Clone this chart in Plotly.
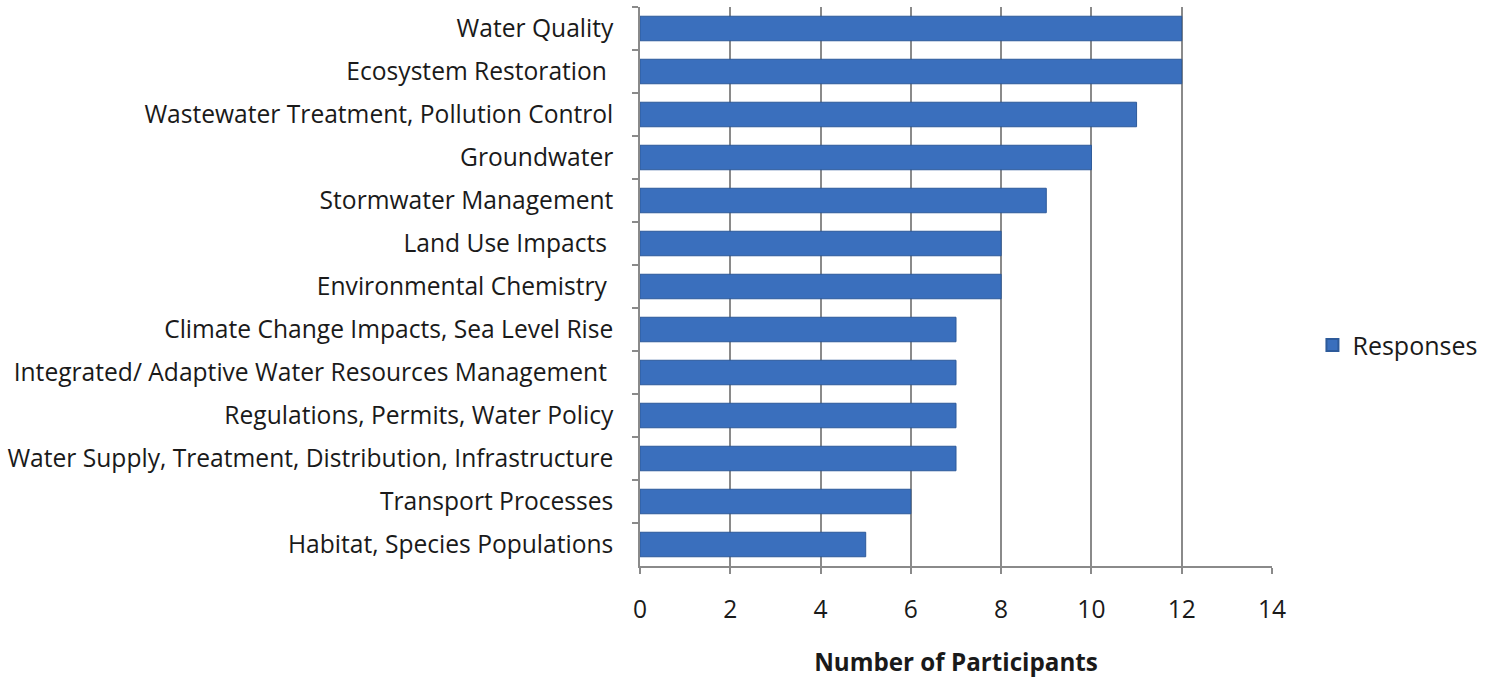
import plotly.graph_objects as go

# Research topics, listed top to bottom, with participant counts
topics = [
    "Water Quality",
    "Ecosystem Restoration\u00a0",
    "Wastewater Treatment, Pollution Control",
    "Groundwater",
    "Stormwater Management",
    "Land Use Impacts\u00a0",
    "Environmental Chemistry\u00a0",
    "Climate Change Impacts, Sea Level Rise",
    "Integrated/ Adaptive Water Resources Management\u00a0",
    "Regulations, Permits, Water Policy",
    "Water Supply, Treatment, Distribution, Infrastructure",
    "Transport Processes",
    "Habitat, Species Populations",
]
responses = [12, 12, 11, 10, 9, 8, 8, 7, 7, 7, 7, 6, 5]
x_ticks = [0, 2, 4, 6, 8, 10, 12, 14]

FONT = "'Open Sans', Calibri, sans-serif"
FS = 24.6
AXIS_GREY = "#8a8a8a"

fig = go.Figure(
    go.Bar(
        x=responses,
        y=topics,
        orientation="h",
        name="Responses",
        marker=dict(color="#3a6fbd", line=dict(color="#2d5a9a", width=1)),
        showlegend=True,
    )
)

fig.update_layout(
    width=1497,
    height=681,
    margin=dict(l=640, r=225, t=7, b=115),
    paper_bgcolor="white",
    plot_bgcolor="white",
    font=dict(family=FONT, size=FS, color="#1a1a1a"),
    bargap=0.43,
    showlegend=True,
    legend=dict(
        x=1.064,
        y=0.395,
        xanchor="left",
        yanchor="middle",
        font=dict(size=25, color="#1a1a1a"),
        itemsizing="constant",
        itemwidth=30,
        bgcolor="rgba(0,0,0,0)",
    ),
    xaxis=dict(
        range=[0, 14],
        tickvals=x_ticks,
        showgrid=True,
        gridcolor=AXIS_GREY,
        gridwidth=1.5,
        zeroline=False,
        showline=True,
        linecolor=AXIS_GREY,
        linewidth=1.5,
        ticks="outside",
        ticklen=6,
        tickcolor=AXIS_GREY,
        tickwidth=1.5,
        ticklabelstandoff=15,
        tickfont=dict(size=FS),
        title=dict(
            text="<b>Number of Participants</b>",
            font=dict(size=24.2),
            standoff=30,
        ),
    ),
    yaxis=dict(
        autorange="reversed",
        showgrid=False,
        showline=True,
        linecolor=AXIS_GREY,
        linewidth=1.5,
        ticks="outside",
        tickson="boundaries",
        ticklen=6,
        tickcolor=AXIS_GREY,
        tickwidth=1.5,
        ticklabelstandoff=20,
        tickfont=dict(size=FS),
    ),
)

fig.write_html("out.html")
